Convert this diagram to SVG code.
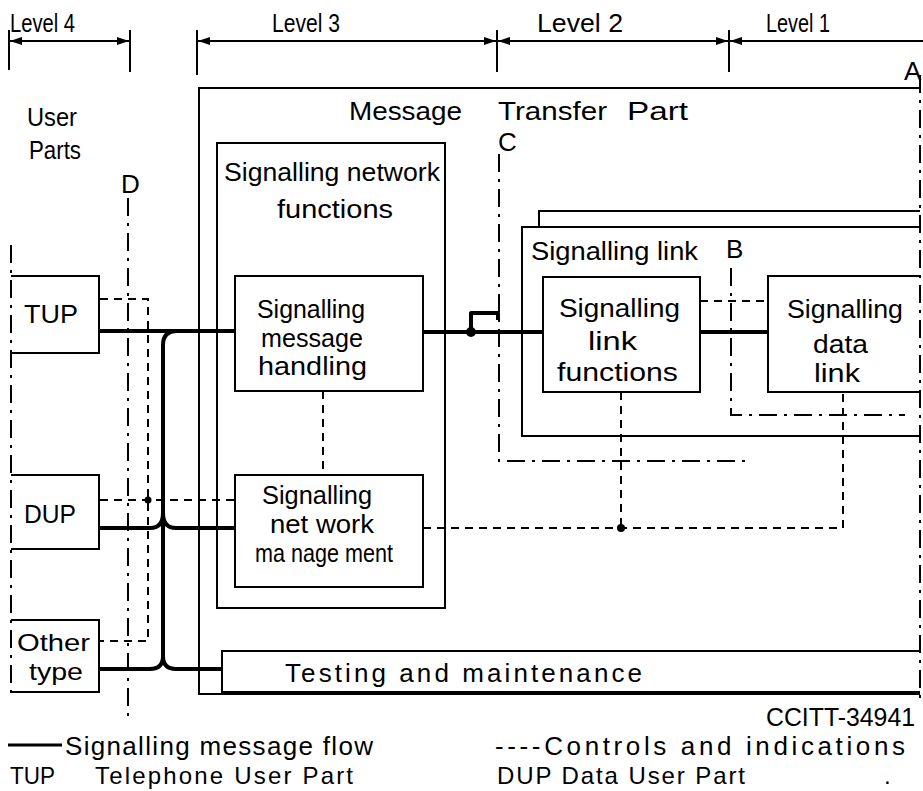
<svg xmlns="http://www.w3.org/2000/svg" width="923" height="791" viewBox="0 0 923 791">
  <defs>
    <style>
      .t { font-family: "Liberation Sans", "DejaVu Sans", sans-serif; font-size: 26px; fill: #000; }
      .sm { font-size: 24px; }
      .box { fill: none; stroke: #000; stroke-width: 2; }
      .flow { fill: none; stroke: #000; stroke-width: 4; stroke-linejoin: round; }
      .ctl { fill: none; stroke: #000; stroke-width: 2; stroke-dasharray: 8 6; }
      .iface { fill: none; stroke: #000; stroke-width: 2; stroke-dasharray: 18 7 3 7; }
      .tick { fill: none; stroke: #000; stroke-width: 2; }
      .dim { fill: none; stroke: #000; stroke-width: 2; }
    </style>
    <marker id="arr" viewBox="0 0 12 8" refX="12" refY="4" markerWidth="12" markerHeight="8" markerUnits="userSpaceOnUse" orient="auto-start-reverse">
      <path d="M0,0 L12,4 L0,8 z" fill="#000"/>
    </marker>
  </defs>

  <!-- level scale -->
  <g id="levels">
    <path class="tick" d="M9 30 V70 M130 30 V72 M197 30 V75 M497 30 V72 M729 30 V72"/>
    <path class="dim" d="M10 41 H129" marker-start="url(#arr)" marker-end="url(#arr)"/>
    <path class="dim" d="M198 41 H496" marker-start="url(#arr)" marker-end="url(#arr)"/>
    <path class="dim" d="M498 41 H728" marker-start="url(#arr)" marker-end="url(#arr)"/>
    <path class="dim" d="M730 41 H923" marker-start="url(#arr)"/>
    <text class="t" x="10" y="32" textLength="65" lengthAdjust="spacingAndGlyphs">Level 4</text>
    <text class="t" x="272" y="32" textLength="68" lengthAdjust="spacingAndGlyphs">Level 3</text>
    <text class="t" x="537" y="32" textLength="86" lengthAdjust="spacingAndGlyphs">Level 2</text>
    <text class="t" x="766" y="32" textLength="64" lengthAdjust="spacingAndGlyphs">Level 1</text>
  </g>

  <!-- interface lines A, B, C, D and user-part boundary -->
  <g id="interfaces">
    <path class="iface" d="M920 75 V705"/>
    <path class="iface" d="M731 268 V415 H905"/>
    <path class="iface" d="M499 154 V461 H745"/>
    <path class="iface" d="M128 198 V720"/>
    <path class="iface" d="M11 245 V700"/>
    <text class="t" x="904" y="80">A</text>
    <text class="t" x="726" y="258">B</text>
    <text class="t" x="498" y="151">C</text>
    <text class="t" x="121" y="193">D</text>
  </g>

  <g id="user-parts-label">
    <text class="t" x="27" y="126" textLength="50" lengthAdjust="spacingAndGlyphs">User</text>
    <text class="t" x="29" y="159" textLength="52" lengthAdjust="spacingAndGlyphs">Parts</text>
  </g>

  <g id="mtp">
    <path class="box" d="M920 88 H199 V694 H920"/>
    <text class="t" x="349" y="120" textLength="113" lengthAdjust="spacingAndGlyphs">Message</text>
    <text class="t" x="498" y="120" textLength="109" lengthAdjust="spacingAndGlyphs">Transfer</text>
    <text class="t" x="627" y="120" textLength="61" lengthAdjust="spacingAndGlyphs">Part</text>
  </g>

  <g id="tup">
    <path class="box" d="M11 276 H99 V353 H11"/>
    <text class="t" x="24" y="323" textLength="54" lengthAdjust="spacingAndGlyphs">TUP</text>
  </g>
  <g id="dup">
    <path class="box" d="M11 475 H99 V549 H11"/>
    <text class="t" x="24" y="523" textLength="52" lengthAdjust="spacingAndGlyphs">DUP</text>
  </g>
  <g id="other-type">
    <path class="box" d="M11 620 H99 V692 H11"/>
    <text class="t sm" x="17" y="651" textLength="73" lengthAdjust="spacingAndGlyphs">Other</text>
    <text class="t sm" x="29" y="680" textLength="54" lengthAdjust="spacingAndGlyphs">type</text>
  </g>

  <g id="signalling-network-functions">
    <rect class="box" x="217" y="143" width="228" height="465"/>
    <text class="t" x="224" y="181" textLength="216" lengthAdjust="spacingAndGlyphs">Signalling network</text>
    <text class="t" x="277" y="218" textLength="116" lengthAdjust="spacingAndGlyphs">functions</text>
  </g>

  <g id="signalling-message-handling">
    <rect class="box" x="235" y="276" width="188" height="115"/>
    <text class="t" x="257" y="318" textLength="108" lengthAdjust="spacingAndGlyphs">Signalling</text>
    <text class="t" x="261" y="347" textLength="102" lengthAdjust="spacingAndGlyphs">message</text>
    <text class="t" x="258" y="375" textLength="109" lengthAdjust="spacingAndGlyphs">handling</text>
  </g>

  <g id="signalling-network-management">
    <rect class="box" x="235" y="475" width="188" height="112"/>
    <text class="t" x="262" y="504" textLength="110" lengthAdjust="spacingAndGlyphs">Signalling</text>
    <text class="t" x="270" y="533" textLength="104" lengthAdjust="spacingAndGlyphs">net work</text>
    <text class="t" x="255" y="562" textLength="138" lengthAdjust="spacingAndGlyphs">ma nage ment</text>
  </g>

  <g id="signalling-link">
    <path class="box" d="M920 211 H539 V227"/>
    <path class="box" d="M920 227 H522 V436 H920"/>
    <text class="t" x="531" y="260" textLength="167" lengthAdjust="spacingAndGlyphs">Signalling link</text>
  </g>

  <g id="signalling-link-functions">
    <rect class="box" x="543" y="277" width="157" height="115"/>
    <text class="t" x="559" y="317" textLength="121" lengthAdjust="spacingAndGlyphs">Signalling</text>
    <text class="t" x="588" y="350" textLength="49" lengthAdjust="spacingAndGlyphs">link</text>
    <text class="t" x="557" y="381" textLength="121" lengthAdjust="spacingAndGlyphs">functions</text>
  </g>

  <g id="signalling-data-link">
    <path class="box" d="M920 276 H768 V392 H920"/>
    <text class="t" x="787" y="318" textLength="116" lengthAdjust="spacingAndGlyphs">Signalling</text>
    <text class="t" x="813" y="353" textLength="55" lengthAdjust="spacingAndGlyphs">data</text>
    <text class="t" x="814" y="382" textLength="46" lengthAdjust="spacingAndGlyphs">link</text>
  </g>

  <g id="testing-and-maintenance">
    <path class="box" d="M920 651 H222 V692 H920"/>
    <text class="t" x="285" y="682" textLength="357" lengthAdjust="spacing">Testing  and  maintenance</text>
  </g>

  <!-- signalling message flow and control/indication connectors -->
  <g id="connectors">
    <path class="flow" d="M100 331 H235"/>
    <path class="flow" d="M177 331 Q163 331 163 345 V656"/>
    <path class="flow" d="M100 528 H150 Q163 528 163 513 Q163 528 176 528 H235"/>
    <path class="flow" d="M100 669 H150 Q163 669 163 656 Q163 669 176 669 H222"/>
    <path class="flow" d="M423 332 H543"/>
    <path class="flow" d="M471 332 V313 H498 V320"/>
    <circle cx="471" cy="332" r="5" fill="#000"/>
    <path class="flow" d="M700 332 H768"/>

    <path class="ctl" d="M100 299 H148 V641 H100"/>
    <path class="ctl" d="M100 500 H235"/>
    <circle cx="148" cy="500" r="3.5" fill="#000"/>
    <path class="ctl" d="M323 391 V475"/>
    <path class="ctl" d="M700 301 H768"/>
    <path class="ctl" d="M423 528 H843 V392"/>
    <path class="ctl" d="M621 392 V528"/>
    <circle cx="621" cy="528" r="4" fill="#000"/>
  </g>

  <!-- key -->
  <g id="legend">
    <text class="t" x="766" y="726" textLength="149" lengthAdjust="spacingAndGlyphs">CCITT-34941</text>
    <path class="flow" d="M8 745 H62" style="stroke-width:3"/>
    <text class="t" x="65" y="755" textLength="308" lengthAdjust="spacing">Signalling  message  flow</text>
    <text class="t" x="495" y="755" textLength="410" lengthAdjust="spacing">----Controls and  indications</text>
    <text class="t sm" x="10" y="784" textLength="45" lengthAdjust="spacingAndGlyphs">TUP</text>
    <text class="t sm" x="95" y="784" textLength="258" lengthAdjust="spacing">Telephone  User  Part</text>
    <text class="t sm" x="497" y="784" textLength="248" lengthAdjust="spacing">DUP  Data  User  Part</text>
    <text class="t sm" x="884" y="784">.</text>
  </g>
</svg>
